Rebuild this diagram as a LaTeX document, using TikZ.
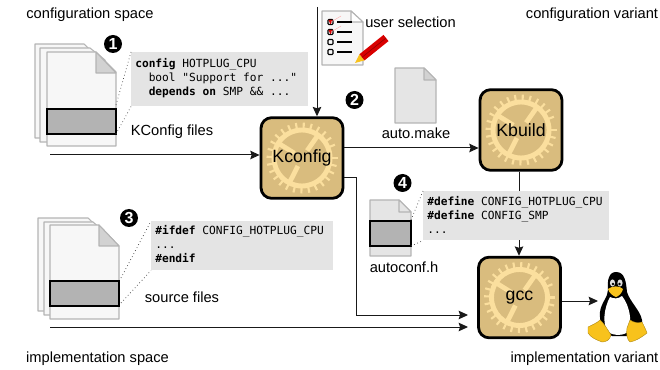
\documentclass[tikz,border=0pt]{standalone}
\usepackage{fontspec}
\setmainfont{Liberation Sans}
\setmonofont{DejaVu Sans Mono}
\usetikzlibrary{arrows.meta}
\definecolor{boxtan}{HTML}{D9BC7E}
\definecolor{gearcol}{HTML}{FBDF9E}
\definecolor{pagefill}{HTML}{F7F7F7}
\definecolor{pageback}{HTML}{E5E5E5}
\definecolor{pageline}{HTML}{B4B4B4}
\definecolor{foldfill}{HTML}{D2D2D2}
\definecolor{bandfill}{HTML}{B3B3B3}
\definecolor{codefill}{HTML}{E4E4E4}
\definecolor{tuxyellow}{HTML}{F8C21C}
\tikzset{
  lbl/.style={font=\fontsize{11}{13}\selectfont,inner sep=0pt},
  toolbox/.style={draw=black,line width=2.1pt,fill=boxtan,rounded corners=8pt,minimum width=61.5pt,minimum height=60.5pt,inner sep=0pt},
  toollabel/.style={font=\fontsize{13.3}{15}\selectfont,inner sep=0pt},
  codebox/.style={fill=codefill,anchor=north west,inner sep=0pt,align=left},
  tip/.style={-{Stealth[length=7pt,width=6.4pt,inset=1pt]}},
  conn/.style={draw=black!90,line width=0.75pt,tip},
  dotline/.style={draw=black!70,line width=0.55pt,dotted},
  page/.style={draw=pageline,line width=0.8pt,fill=pagefill,line join=round},
  band/.style={draw=black,line width=0.8pt,fill=bandfill},
  numdot/.style={circle,fill=black,text=white,inner sep=0pt,minimum size=13.5pt,font=\fontsize{12}{12}\bfseries\selectfont},
  codetext/.style={anchor=north west,inner sep=0pt,align=left,font=\fontsize{8.4}{10.4}\ttfamily\selectfont}
}
\newcommand{\geardraw}[2]{%
  \begin{scope}[shift={(#1,#2)},gearcol]
    \foreach \a in {0,13,...,350}{\draw[line width=1.6pt] (\a:29) -- (\a:35.5);}
    \draw[line width=3.7pt] (0,0) circle (28);
    \foreach \a in {-55,-148,117}{\draw[line width=3.6pt] (\a:9) -- (\a:28);}
  \end{scope}}
\newcommand{\docpage}[7][page]{% style, x1,y1,x2,y2,foldx,foldy
  \path[#1] (#2,#3) -- (#6,#3) -- (#4,#7) -- (#4,#5) -- (#2,#5) -- cycle;}
\newcommand{\docfold}[5]{% foldx, y1, x2, foldy, fill
  \path[draw=pageline,line width=0.8pt,fill=#5,line join=round] (#1,#2) -- (#3,#4) -- (#1,#4) -- cycle;}
\begin{document}
\begin{tikzpicture}[x=0.75pt,y=-0.75pt]
\useasboundingbox (0,0) rectangle (660,370);
% corner labels
\node[lbl] (t1) at (90,15) {configuration space};
\node[lbl] (t2) at (592,15) {configuration variant};
\node[lbl] (t3) at (97.5,359) {implementation space};
\node[lbl] (t4) at (584.5,359) {implementation variant};
% tool boxes
\node[toolbox] (kconfig) at (302,158) {};
\node[toolbox] (kbuild) at (521,130) {};
\node[toolbox] (gcc) at (519.5,297.5) {};
\geardraw{302}{158}
\geardraw{521}{130}
\geardraw{519.5}{297.5}
\node[toollabel] (kconfiglbl) at (kconfig.center) {Kconfig};
\node[toollabel] (kbuildlbl) at (kbuild.center) {Kbuild};
\node[toollabel] (gcclbl) at (gcc.center) {gcc};
% free ends
\coordinate (kin) at (50,155);
\coordinate (top) at (317,7);
\coordinate (srcin) at (50,327);
\coordinate (gccinA) at (468,315);
\coordinate (gccinB) at (468,327);
\coordinate (tuxin) at (598,301);
\coordinate (tuxout) at (gcc.east |- tuxin);
% connectors
\draw[conn] (kin) -- (kin -| kconfig.west);
\draw[conn] (top) -- (top |- kconfig.north);
\draw[conn] (kconfig.east |- 0,148) -- (kbuild.west |- 0,148);
\draw[conn] (kconfig.east |- 0,178) -- (356,178) -- (356,315) -- (gccinA);
\draw[conn] (srcin) -- (gccinB);
\draw[conn] (kbuild.south -| 519,0) -- (gcc.north -| 519,0);
\draw[conn] (tuxout) -- (tuxin);
% KConfig stack
\docpage{35}{44}{100}{138}{84}{60}
\docpage{40}{48}{105}{142}{90}{60}
\docpage{47}{52}{116}{146}{96}{72}
\docfold{96}{52}{116}{73}{foldfill}
\node[codebox,minimum width=132.75pt,minimum height=40.5pt] (code1) at (131,52) {};
\draw[band] (47,109) rectangle (116,134);
\draw[dotline] (116,105) -- (code1.north west);
\draw[dotline] (116,134) -- (code1.south west);
\node[codetext] (code1t) at (135,58.5) {\textbf{config} HOTPLUG\_CPU\\\phantom{xx}bool "Support for ..."\\\phantom{xx}\textbf{depends on} SMP \&\& ...};
\node[lbl] (kfiles) at (172,132) {KConfig files};
\node[numdot] (n1) at (113,44) {1};
% user selection
\docpage{322}{11}{363}{65}{351}{22}
\docfold{351}{11}{363}{22}{white}
\foreach \yy in {22,32,42,52}{\draw[black,line width=0.8pt,rounded corners=0.6pt] (328,\yy-2.5) rectangle (333,\yy+2.5); \draw[black,line width=0.9pt] (337,\yy) -- (352,\yy);}
\foreach \yy in {22,32}{\fill[red!85!black] (328.5,\yy-2) -- (332.5,\yy-2) -- (330.5,\yy+2.5) -- cycle; \draw[red!35,line width=0.3pt] (331,\yy) -- (341,\yy-6);}
\fill[tuxyellow] (355,63) -- (364.5,60.4) -- (359.5,54.2) -- cycle;
\fill[red!85!black] (364.5,60.4) -- (388.5,41.1) -- (383.5,34.9) -- (359.5,54.2) -- cycle;
\draw[red!55!black,line width=0.4pt] (362,57.3) -- (386,38);
\node[lbl] (usel) at (410.5,22) {user selection};
\node[numdot] (n2) at (354.5,100) {2};
% auto.make
\docpage[page,fill=pageback]{395}{68}{436}{123}{424}{80}
\docfold{424}{68}{436}{80}{foldfill}
\node[lbl] (amake) at (416,133) {auto.make};
% autoconf.h
\docpage[page,fill=pageback]{370}{200}{411}{256}{399}{212}
\docfold{399}{200}{411}{212}{pageback}
\draw[band] (370,221) rectangle (411,246);
\node[codebox,minimum width=139.5pt,minimum height=36.75pt] (code4) at (423,191) {};
\draw[dotline] (411,220) -- (code4.north west);
\draw[dotline] (411,246) -- (code4.south west);
\node[codetext] (code4t) at (427,196) {\textbf{\#define} CONFIG\_HOTPLUG\_CPU\\\textbf{\#define} CONFIG\_SMP\\...};
\node[lbl] (aconf) at (404,267) {autoconf.h};
\node[numdot] (n4) at (402.5,183) {4};
% source stack
\docpage{38}{218}{103}{311}{88}{232}
\docpage{44}{222}{109}{315}{93}{236}
\docpage{50}{225}{119}{319}{99}{246}
\docfold{99}{225}{119}{246}{foldfill}
\node[codebox,minimum width=136.5pt,minimum height=36.75pt] (code3) at (151,221) {};
\draw[band] (50,281) rectangle (119,306);
\draw[dotline] (121,278) -- (code3.north west);
\draw[dotline] (121,303) -- (code3.south west);
\node[codetext] (code3t) at (155,225) {\textbf{\#ifdef} CONFIG\_HOTPLUG\_CPU\\...\\\textbf{\#endif}};
\node[lbl] (sfiles) at (182,297) {source files};
\node[numdot] (n3) at (129,218) {3};
% Tux
\fill[black] (616,272) .. controls (609,272) and (607,280) .. (608,290) .. controls (608,297) and (601,303) .. (600,312) .. controls (599,322) and (603,332) .. (612,336) -- (628,336) .. controls (636,333) and (643,328) .. (642,320) .. controls (640,310) and (630,302) .. (627,292) .. controls (626,282) and (625,272) .. (616,272) -- cycle;
\fill[white] (610,297) .. controls (604,308) and (602,324) .. (608,332) .. controls (614,336) and (624,336) .. (629,331) .. controls (632,322) and (630,306) .. (622,296) .. controls (618,299) and (614,299) .. (610,297) -- cycle;
\fill[black!12] (612.5,283) ellipse (2.6 and 3.6);
\fill[black!12] (620,283) ellipse (2.6 and 3.6);
\fill[black] (613,284) circle (1.3);
\fill[black] (619.5,284) circle (1.3);
\fill[tuxyellow] (608,289) .. controls (612,286) and (619,285) .. (623,289) .. controls (622,293) and (619,296) .. (616,297) .. controls (613,296) and (609,293) .. (608,289) -- cycle;
\fill[tuxyellow,draw=black!30!tuxyellow,line width=0.3pt] (600,320) .. controls (603,322) and (608,330) .. (611,335) .. controls (610,340) and (606,342) .. (602,342) .. controls (597,340) and (591,338) .. (588,333) -- (588,327) .. controls (592,325) and (597,323) .. (600,320) -- cycle;
\fill[tuxyellow,draw=black!30!tuxyellow,line width=0.3pt] (630,320) .. controls (634,323) and (639,323) .. (642,322) .. controls (644,326) and (646,330) .. (647,333) .. controls (642,337) and (636,341) .. (630,342) .. controls (627,340) and (626,333) .. (627,328) -- cycle;
\end{tikzpicture}
\end{document}
